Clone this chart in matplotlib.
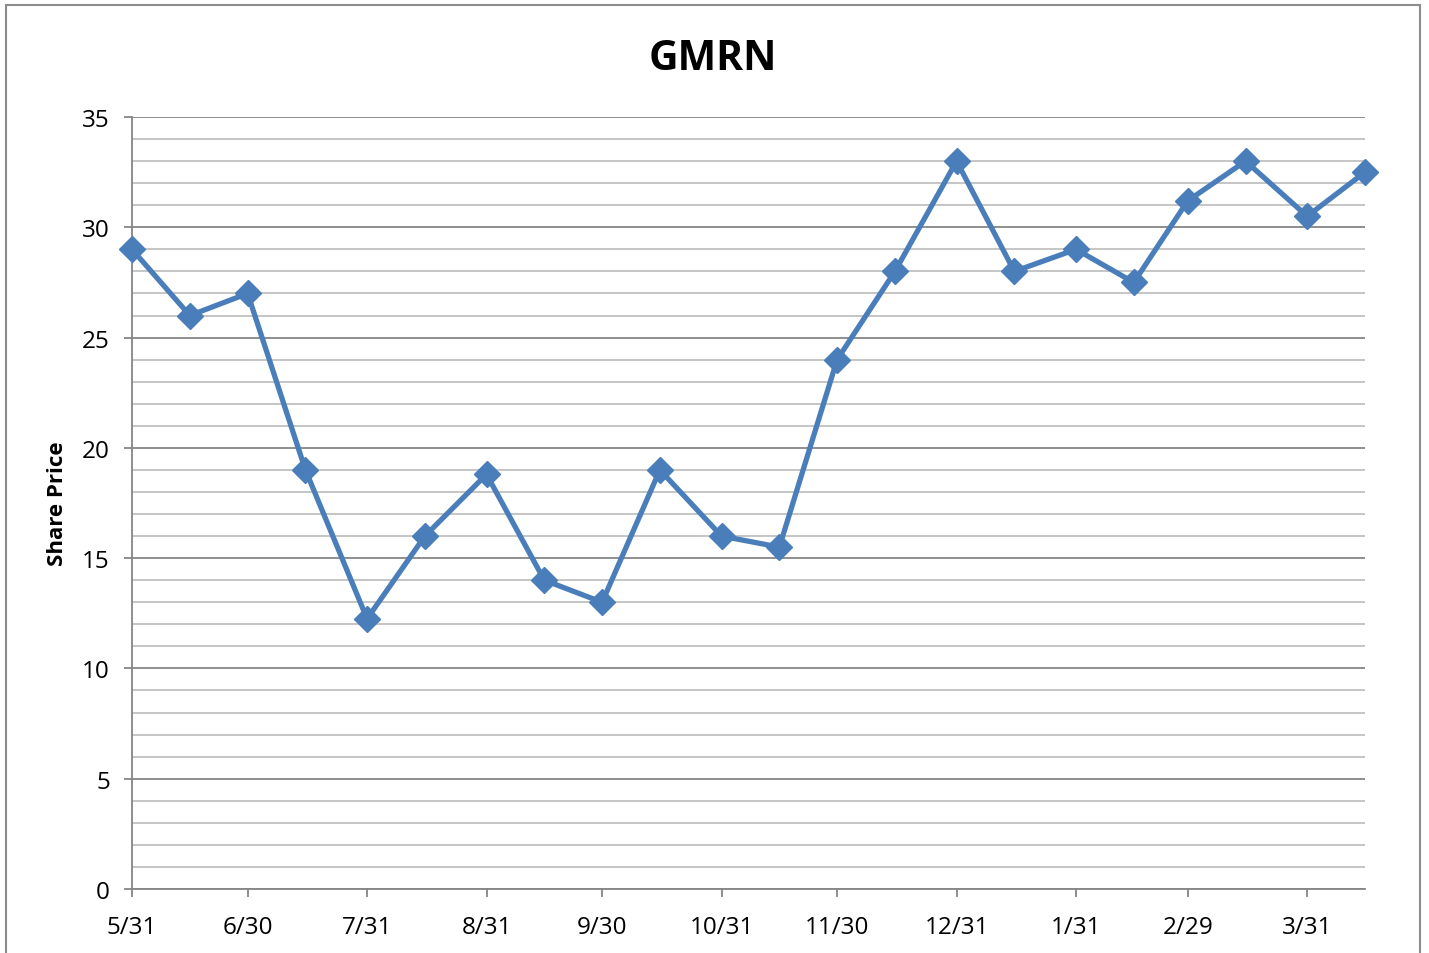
import matplotlib
matplotlib.use("Agg")
import matplotlib.pyplot as plt
from matplotlib.patches import Rectangle
from matplotlib.ticker import MultipleLocator
import datetime as dt

# semi-monthly share prices (mid-month and month end)
dates = ["2011-05-31", "2011-06-15", "2011-06-30", "2011-07-15", "2011-07-31",
         "2011-08-15", "2011-08-31", "2011-09-15", "2011-09-30", "2011-10-15",
         "2011-10-31", "2011-11-15", "2011-11-30", "2011-12-15", "2011-12-31",
         "2012-01-15", "2012-01-31", "2012-02-15", "2012-02-29", "2012-03-15",
         "2012-03-31", "2012-04-15"]
prices = [29, 26, 27, 19, 12.25, 16, 18.8, 14, 13, 19, 16, 15.5, 24, 28, 33,
          28, 29, 27.5, 31.2, 33, 30.5, 32.5]
tick_dates = ["2011-05-31", "2011-06-30", "2011-07-31", "2011-08-31", "2011-09-30",
              "2011-10-31", "2011-11-30", "2011-12-31", "2012-01-31", "2012-02-29",
              "2012-03-31"]
tick_labels = ["5/31", "6/30", "7/31", "8/31", "9/30", "10/31", "11/30", "12/31",
               "1/31", "2/29", "3/31"]

plt.rcParams['font.family'] = ['Open Sans', 'DejaVu Sans']

xs = [dt.datetime.strptime(d, "%Y-%m-%d") for d in dates]
xt = [dt.datetime.strptime(d, "%Y-%m-%d") for d in tick_dates]

fig = plt.figure(figsize=(14.29, 9.54), dpi=100)
ax = fig.add_axes([0.0924, 0.0671, 0.8628, 0.8092])

# outer chart border
fig.patches.append(Rectangle((6 / 1429, -0.05), 1414 / 1429, 1.05 - 6 / 954,
                             transform=fig.transFigure, fill=False,
                             edgecolor="#8c8c8c", linewidth=1.5))

ax.set_xlim(xs[0], xs[-1])
ax.set_ylim(0, 35)

ax.yaxis.set_major_locator(MultipleLocator(5))
ax.yaxis.set_minor_locator(MultipleLocator(1))
ax.grid(which="major", axis="y", color="#868686", linewidth=1.3)
ax.grid(which="minor", axis="y", color="#c0c0c0", linewidth=1.3)
ax.set_axisbelow(True)

ax.plot(xs, prices, color="#4a7ebb", linewidth=3.8, marker="D",
        markersize=13, markeredgecolor="#4a7ebb", clip_on=False, zorder=3)

ax.set_xticks(xt)
ax.set_xticklabels(tick_labels)
ax.tick_params(axis="both", which="major", labelsize=17.5, length=6,
               color="#868686", width=1.3, direction="out", pad=10)
ax.tick_params(axis="x", which="major", pad=13)
ax.tick_params(axis="y", which="minor", length=0)

for s in ["top", "right"]:
    ax.spines[s].set_visible(False)
for s in ["left", "bottom"]:
    ax.spines[s].set_color("#868686")
    ax.spines[s].set_linewidth(1.3)

ax.set_ylabel("Share Price", fontsize=16, fontweight="bold")
ax.yaxis.set_label_coords(-0.052, 0.5)
fig.text(0.499, 0.938, "GMRN", ha="center", va="center", fontsize=29.5,
         fontweight="bold")

fig.savefig("out.png", dpi=100)
